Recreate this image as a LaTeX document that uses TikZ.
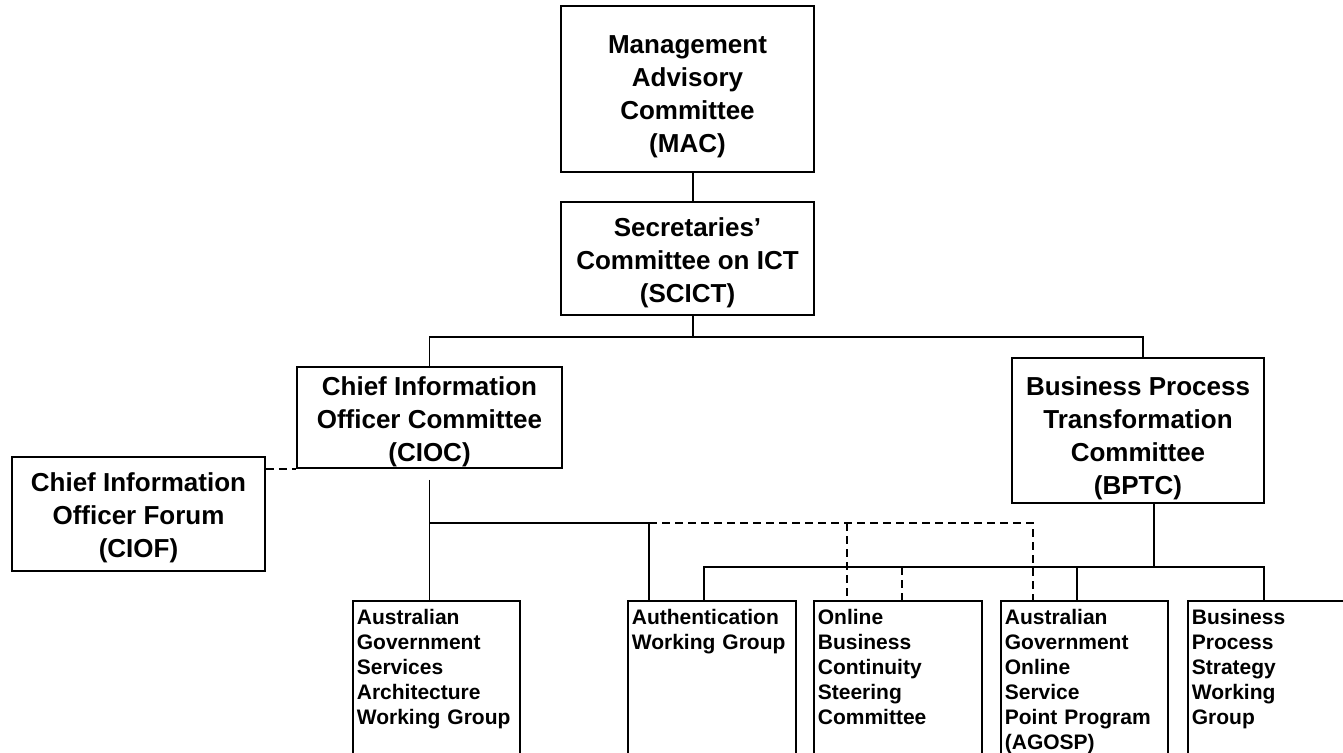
\documentclass[tikz,border=0pt]{standalone}
\usepackage{fontspec}
\setmainfont{Liberation Sans}
\usetikzlibrary{positioning, calc}

% invisible strut that pushes a box's text down a little
\newcommand{\lift}[1]{\rule{0pt}{#1}}

\tikzset{
    committee/.style={draw, line width=0.85pt, align=center, inner sep=0pt,
        font=\fontsize{13}{16.5}\selectfont\bfseries},
    group/.style={draw, line width=0.85pt, anchor=north west, align=left,
        inner xsep=2pt, inner ysep=4pt, text height=8pt, text depth=80pt,
        font=\fontsize{10.5}{12.5}\selectfont\bfseries},
    link/.style={line width=0.85pt},
    loose/.style={line width=0.85pt, dash pattern=on 4pt off 2.5pt}
}

\begin{document}
\begin{tikzpicture}[x=0.5pt, y=-0.5pt]
    \useasboundingbox (0,0) rectangle (1343,752);
    \clip (0,0) rectangle (1343,752);

    % committees
    \node[committee, minimum width=126.5pt, minimum height=83pt] (mac) at (687.5,89)
        {\lift{17pt}Management\\Advisory\\Committee\\(MAC)};
    \node[committee, minimum width=126.5pt, minimum height=56.5pt] (scict) at (687.5,258.5)
        {\lift{13.5pt}Secretaries’\\Committee on ICT\\(SCICT)};
    \node[committee, minimum width=132.5pt, minimum height=50.5pt] (cioc) at (429.5,417.5)
        {\lift{13.5pt}Chief Information\\Officer Committee\\(CIOC)};
    \node[committee, minimum width=126pt, minimum height=72.5pt] (bptc) at (1138,430.5)
        {\lift{17pt}Business Process\\Transformation\\Committee\\(BPTC)};
    \node[committee, minimum width=126.5pt, minimum height=57pt] (ciof) at (138.5,514)
        {\lift{13.5pt}Chief Information\\Officer Forum\\(CIOF)};

    % working groups
    \node[group, text width=79.5pt] (agsa) at (352,600)
        {Australian\\Government\\Services\\Architecture\\Working Group};
    \node[group, text width=80pt] (auth) at (627,600)
        {Authentication\\Working Group};
    \node[group, text width=80pt] (online) at (813,600)
        {Online\\Business\\Continuity\\Steering\\Committee};
    \node[group, text width=79.5pt] (agosp) at (1000,600)
        {Australian\\Government\\Online\\Service\\Point Program\\(AGOSP)};
    \node[group, text width=80pt] (bpswg) at (1187,600)
        {Business\\Process\\Strategy\\Working\\Group};

    % junctions
    \coordinate (sbus) at (693,337);
    \coordinate (cjoin) at (649,523);
    \coordinate (bjoin) at (1154,567);

    % upper tree
    \draw[link] (693,0 |- mac.south) -- (693,0 |- scict.north);
    \draw[link] (693,0 |- scict.south) -- (sbus);
    \draw[link] (cioc.north) |- (sbus) -| (1143,0 |- bptc.north);
    \draw[loose] (ciof.east |- cioc.south) -- (cioc.south west);

    % under CIOC
    \draw[link] ($(cioc.south)+(0,11)$) -- (cioc.south |- agsa.north);
    \draw[link] (cioc.south |- cjoin) -- (cjoin) -- (cjoin |- auth.north);
    \draw[loose] (cjoin) -| (1033,0 |- agosp.north);
    \draw[loose] (847,0 |- cjoin) -- (847,0 |- online.north);

    % under BPTC
    \draw[link] (1154,0 |- bptc.south) -- (bjoin);
    \draw[link] (704,0 |- auth.north) |- (bjoin) -| (1264,0 |- bpswg.north);
    \draw[link] (1077,0 |- bjoin) -- (1077,0 |- agosp.north);
    \draw[loose] (902,0 |- bjoin) -- (902,0 |- online.north);
\end{tikzpicture}
\end{document}
